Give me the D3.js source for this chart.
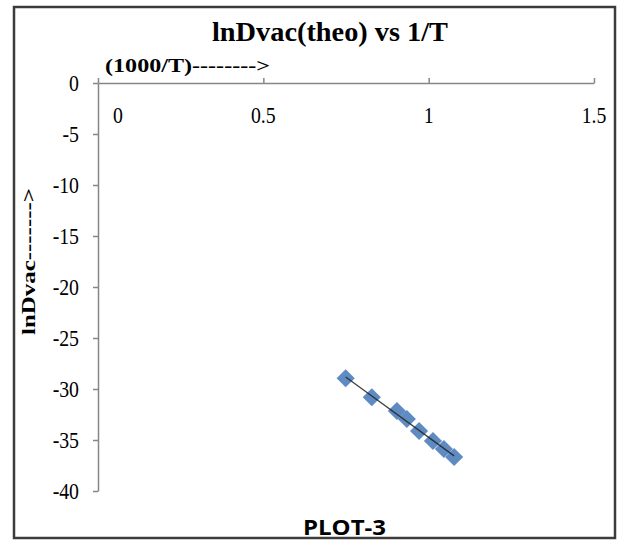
<!DOCTYPE html>
<html>
<head>
<meta charset="utf-8">
<script src="https://cdn.jsdelivr.net/npm/d3@7"></script>
<style>
  body { margin: 0; background: #fff; }
</style>
</head>
<body>
<div id="chart"></div>
<script>
// data
var invT = [0.749, 0.828, 0.904, 0.934, 0.971, 1.013, 1.046, 1.077];
var lnDvac = [-28.95, -30.81, -32.16, -32.94, -34.12, -35.1, -35.88, -36.67];
var xTicks = [0, 0.5, 1, 1.5];
var xTickLabels = ["0", "0.5", "1", "1.5"];
var yTicks = [0, -5, -10, -15, -20, -25, -30, -35, -40];

var width = 622, height = 540;
var serif = "'Liberation Serif', 'Times New Roman', serif";

var svg = d3.select("#chart")
  .append("svg")
  .attr("width", width)
  .attr("height", height);

// outer frame
svg.append("rect")
  .attr("x", 14).attr("y", 7)
  .attr("width", 601).attr("height", 531)
  .attr("fill", "#fff")
  .attr("stroke", "#3c3c3c")
  .attr("stroke-width", 2.5);

var x = d3.scaleLinear().domain([0, 1.5]).range([98, 594]);
var y = d3.scaleLinear().domain([-40, 0]).range([491, 83]);

// x axis sits on top (y = 0), ticks pointing up
var gx = svg.append("g")
  .attr("transform", "translate(0," + y(0) + ")")
  .call(d3.axisTop(x).tickValues(xTicks).tickSize(5).tickSizeOuter(0).tickFormat(""));

var gy = svg.append("g")
  .attr("transform", "translate(" + x(0) + ",0)")
  .call(d3.axisLeft(y).tickValues(yTicks).tickSize(5).tickSizeOuter(0).tickFormat(""));

[gx, gy].forEach(function(g) {
  g.select(".domain").attr("stroke", "#868686").attr("stroke-width", 1.5);
  g.selectAll(".tick line").attr("stroke", "#868686").attr("stroke-width", 1.5);
});

// tick labels are a bit tall and narrow in the original
var squeeze = " scale(0.86,1)";

// x tick labels, below the axis line; the 0 is nudged off the y axis
svg.selectAll(".xlab")
  .data(xTicks)
  .enter().append("text")
  .attr("class", "xlab")
  .attr("transform", function(d, i) {
    return "translate(" + (x(d) + (i == 0 ? 20 : 0)) + ",123)" + squeeze;
  })
  .attr("text-anchor", "middle")
  .attr("font-family", serif)
  .attr("font-size", 23)
  .text(function(d, i) { return xTickLabels[i]; });

svg.selectAll(".ylab")
  .data(yTicks)
  .enter().append("text")
  .attr("class", "ylab")
  .attr("transform", function(d) { return "translate(79," + y(d) + ")" + squeeze; })
  .attr("dy", "0.35em")
  .attr("text-anchor", "end")
  .attr("font-family", serif)
  .attr("font-size", 23)
  .text(function(d) { return d; });

// linear trendline
var mx = d3.mean(invT), my = d3.mean(lnDvac);
var sxy = d3.sum(invT, function(d, i) { return (d - mx) * (lnDvac[i] - my); });
var sxx = d3.sum(invT, function(d) { return (d - mx) * (d - mx); });
var slope = sxy / sxx, icpt = my - slope * mx;
var xr = d3.extent(invT);

// markers
svg.selectAll(".pt")
  .data(invT)
  .enter().append("path")
  .attr("class", "pt")
  .attr("d", d3.symbol().type(d3.symbolSquare).size(165))
  .attr("transform", function(d, i) {
    return "translate(" + x(d) + "," + y(lnDvac[i]) + ") rotate(45)";
  })
  .attr("fill", "#4f81bd")
  .attr("fill-opacity", 0.92);

// trendline on top of the markers
svg.append("line")
  .attr("x1", x(xr[0])).attr("y1", y(slope * xr[0] + icpt))
  .attr("x2", x(xr[1])).attr("y2", y(slope * xr[1] + icpt))
  .attr("stroke", "#222")
  .attr("stroke-width", 1.3)
  .attr("stroke-opacity", 0.85);

// titles
svg.append("text")
  .attr("x", 212).attr("y", 41)
  .attr("font-family", serif)
  .attr("font-weight", "bold")
  .attr("font-size", 27)
  .attr("textLength", 236)
  .attr("lengthAdjust", "spacingAndGlyphs")
  .text("lnDvac(theo) vs 1/T");

svg.append("text")
  .attr("x", 105).attr("y", 72)
  .attr("font-family", serif)
  .attr("font-weight", "bold")
  .attr("font-size", 18)
  .attr("textLength", 165)
  .attr("lengthAdjust", "spacingAndGlyphs")
  .text("(1000/T)-------->");

svg.append("text")
  .attr("transform", "translate(35,335) rotate(-90)")
  .attr("font-family", serif)
  .attr("font-weight", "bold")
  .attr("font-size", 19)
  .attr("textLength", 147)
  .attr("lengthAdjust", "spacingAndGlyphs")
  .text("lnDvac------->");

svg.append("text")
  .attr("x", 303).attr("y", 535)
  .attr("font-family", "'Open Sans', 'Liberation Sans', sans-serif")
  .attr("font-weight", "bold")
  .attr("font-size", 22)
  .attr("textLength", 83)
  .attr("lengthAdjust", "spacingAndGlyphs")
  .text("PLOT-3");
</script>
</body>
</html>
